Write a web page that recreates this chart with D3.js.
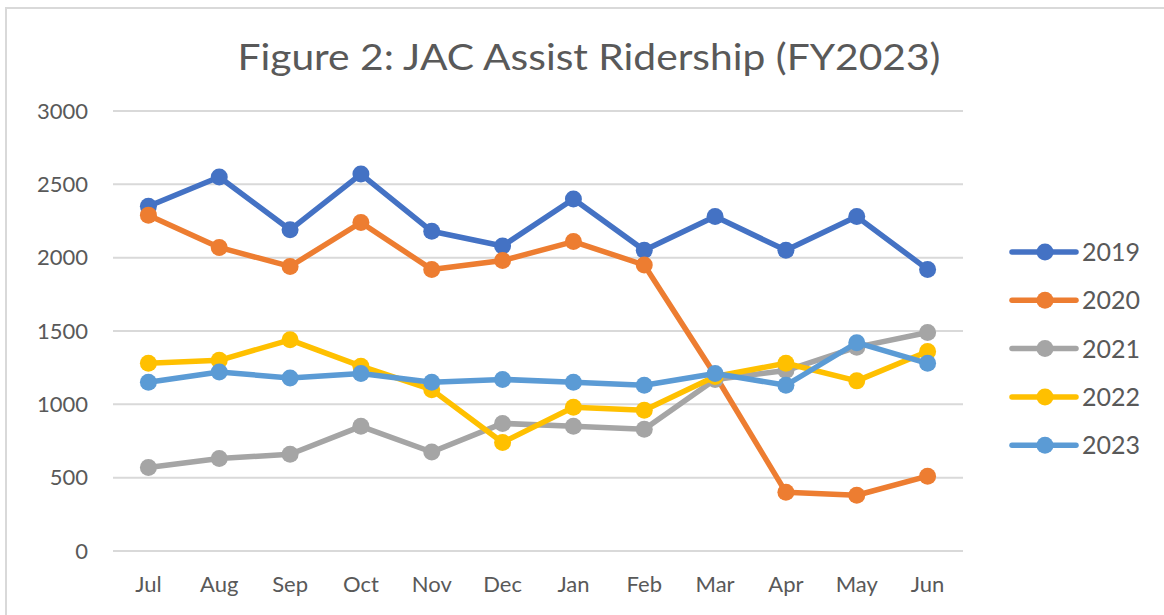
<!DOCTYPE html>
<html>
<head>
<meta charset="utf-8">
<script src="https://cdn.jsdelivr.net/npm/d3@7"></script>
<style>
  body { margin: 0; background: #fff; }
  text { font-family: "Lato", sans-serif; fill: #595959; }
</style>
</head>
<body>
<svg id="chart" width="1164" height="615"></svg>
<script>
// data
var months = ["Jul", "Aug", "Sep", "Oct", "Nov", "Dec", "Jan", "Feb", "Mar", "Apr", "May", "Jun"];
var years = ["2019", "2020", "2021", "2022", "2023"];
var yTicks = [0, 500, 1000, 1500, 2000, 2500, 3000];

var r2019 = [2350, 2550, 2190, 2570, 2180, 2080, 2400, 2050, 2280, 2050, 2280, 1920];
var r2020 = [2290, 2070, 1940, 2240, 1920, 1980, 2110, 1950, 1200, 400, 380, 510];
var r2021 = [570, 630, 660, 850, 675, 870, 850, 830, 1170, 1230, 1390, 1490];
var r2022 = [1280, 1300, 1440, 1260, 1100, 740, 980, 960, 1190, 1280, 1160, 1360];
var r2023 = [1150, 1220, 1180, 1210, 1150, 1170, 1150, 1130, 1210, 1130, 1420, 1280];

var colors = ["#4472C4", "#ED7D31", "#A5A5A5", "#FFC000", "#5B9BD5"];

var series = [r2019, r2020, r2021, r2022, r2023];

var svg = d3.select("#chart");

// outer frame (light grey, cut by the window on right/bottom)
svg.append("rect")
    .attr("x", 6).attr("y", 8)
    .attr("width", 1200).attr("height", 700)
    .attr("fill", "none")
    .attr("stroke", "#d9d9d9")
    .attr("stroke-width", 2);

var plotLeft = 113, plotRight = 963, plotTop = 111, plotBottom = 551;

var x = d3.scaleBand().domain(months).range([plotLeft, plotRight]);
var y = d3.scaleLinear().domain([0, 3000]).range([plotBottom, plotTop]);

// title
svg.append("text")
    .attr("x", 589).attr("y", 70)
    .attr("text-anchor", "middle")
    .attr("font-size", 36)
    .attr("textLength", 703)
    .attr("lengthAdjust", "spacingAndGlyphs")
    .text("Figure 2: JAC Assist Ridership (FY2023)");

// gridlines
svg.append("g").selectAll("line")
    .data(yTicks)
    .enter().append("line")
    .attr("x1", plotLeft).attr("x2", plotRight)
    .attr("y1", function(d) { return y(d); })
    .attr("y2", function(d) { return y(d); })
    .attr("stroke", "#d9d9d9")
    .attr("stroke-width", 2);

// y axis labels
var yAxis = svg.append("g")
    .attr("transform", "translate(" + (plotLeft - 25) + ",0)")
    .call(d3.axisLeft(y).tickValues(yTicks).tickFormat(d3.format("d")).tickSize(0).tickPadding(0));
yAxis.select(".domain").remove();
yAxis.attr("font-family", null);
yAxis.selectAll("text")
    .attr("font-size", 22)
    .attr("fill", "#595959");

// x axis labels
var xAxis = svg.append("g")
    .attr("transform", "translate(0," + (plotBottom + 25) + ")")
    .call(d3.axisBottom(x).tickSize(0).tickPadding(0));
xAxis.select(".domain").remove();
xAxis.attr("font-family", null);
xAxis.selectAll("text")
    .attr("font-size", 22)
    .attr("dy", "0.71em")
    .attr("fill", "#595959");

var xc = function(i) { return x(months[i]) + x.bandwidth() / 2; };

var line = d3.line()
    .x(function(d, i) { return xc(i); })
    .y(function(d) { return y(d); });

series.forEach(function(vals, s) {
    var g = svg.append("g");
    g.append("path")
        .datum(vals)
        .attr("d", line)
        .attr("fill", "none")
        .attr("stroke", colors[s])
        .attr("stroke-width", 5.5)
        .attr("stroke-linejoin", "round")
        .attr("stroke-linecap", "round");
    g.selectAll("circle")
        .data(vals)
        .enter().append("circle")
        .attr("cx", function(d, i) { return xc(i); })
        .attr("cy", function(d) { return y(d); })
        .attr("r", 8.5)
        .attr("fill", colors[s]);
});

// legend
var legend = svg.append("g").selectAll("g")
    .data(years)
    .enter().append("g")
    .attr("transform", function(d, i) { return "translate(0," + (252 + i * 48.3) + ")"; });

legend.append("line")
    .attr("x1", 1012).attr("x2", 1076)
    .attr("stroke", function(d, i) { return colors[i]; })
    .attr("stroke-width", 5.5)
    .attr("stroke-linecap", "round");
legend.append("circle")
    .attr("cx", 1045).attr("r", 8.5)
    .attr("fill", function(d, i) { return colors[i]; });
legend.append("text")
    .attr("x", 1082).attr("dy", "0.36em")
    .attr("font-size", 25)
    .text(function(d) { return d; });
</script>
</body>
</html>
